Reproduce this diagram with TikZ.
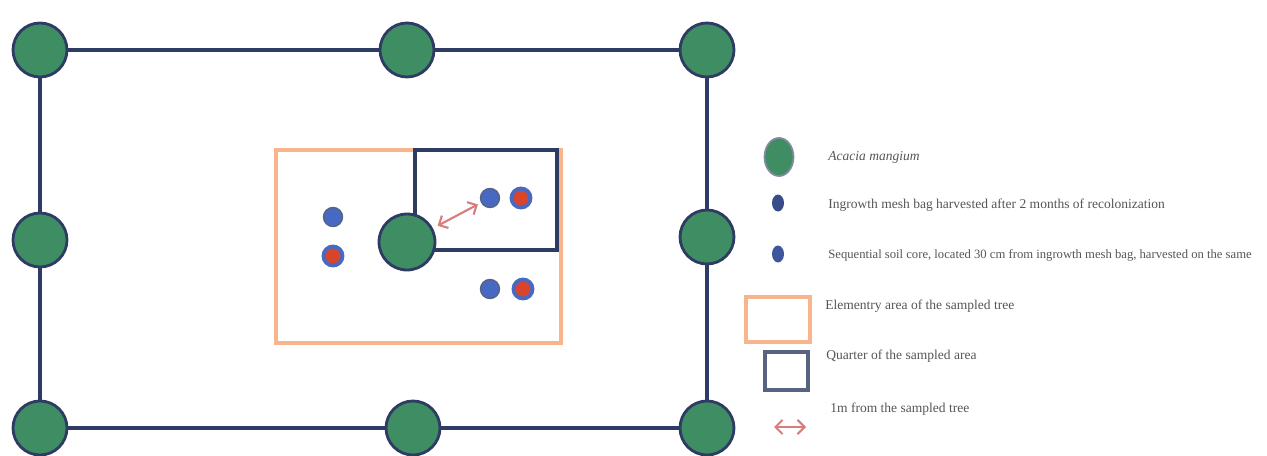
\documentclass[tikz,border=0pt]{standalone}
\usepackage{fontspec}
\setmainfont{Liberation Serif}
\usepackage{xcolor}
\usepackage{tikz}
\usetikzlibrary{arrows.meta,shapes.geometric}
\definecolor{treegreen}{HTML}{3F8D63}
\definecolor{plotblue}{HTML}{2E3B62}
\definecolor{bagblue}{HTML}{4769C2}
\definecolor{corered}{HTML}{D9452C}
\definecolor{elemorange}{HTML}{F8B48C}
\definecolor{distred}{HTML}{D87C7C}
\definecolor{legtext}{HTML}{555555}

\begin{document}
\begin{tikzpicture}[x=0.02cm, y=-0.02cm,
	tree/.style={circle, draw=plotblue, line width=1.6pt, fill=treegreen, minimum size=1.08cm, inner sep=0pt},
	bag/.style={circle, draw=plotblue!80, line width=0.8pt, fill=bagblue, minimum size=0.38cm, inner sep=0pt},
	core/.style={circle, draw=bagblue, line width=2.2pt, fill=corered, minimum size=0.38cm, inner sep=0pt},
	legtxt/.style={anchor=west, inner sep=0pt, text=legtext, font=\fontsize{7.7}{9}\selectfont},
	dist/.style={{Straight Barb[length=4pt]}-{Straight Barb[length=4pt]}, distred, line width=1.2pt}]
				\useasboundingbox (0,0) rectangle (1267,456);
				% plot border with the trees
				\node (tl) at (40,50) [tree] {};
				\node (tm) at (407,50) [tree] {};
				\node (tr) at (707,50) [tree] {};
				\node (ml) at (40,240) [tree] {};
				\node (mr) at (707,237) [tree] {};
				\node (bl) at (40,428) [tree] {};
				\node (bm) at (413,428) [tree] {};
				\node (br) at (707,428) [tree] {};
				\draw[plotblue, line width=1.8pt] (tl) -- (tm) -- (tr) -- (mr) -- (br) -- (bm) -- (bl) -- (ml) -- (tl);
				
				% sampled tree
				\draw[elemorange, line width=1.8pt] (276,150) rectangle (561,343);
				\draw[plotblue, line width=1.8pt] (415,150) rectangle (557,250);
				\node (ctree) at (407,242) [tree, minimum size=1.12cm] {};
				\node (bagA) at (333,217) [bag] {};
				\node (coreA) at (333,256) [core] {};
				\node (bagB) at (490,198) [bag] {};
				\node (coreB) at (521,198) [core] {};
				\node (bagC) at (490,289) [bag] {};
				\node (coreC) at (523,289) [core] {};
				\draw[dist, shorten <=3pt, shorten >=2pt] (ctree) -- (bagB);
				
				% legend
				\node (legtree) at (779,157) [ellipse, draw=plotblue!60, line width=1pt, fill=treegreen, minimum width=0.58cm, minimum height=0.76cm, inner sep=0pt] {};
				\node (legbag) at (778,203) [ellipse, fill=plotblue!60!bagblue, minimum width=0.24cm, minimum height=0.34cm, inner sep=0pt] {};
				\node (legcore) at (778,254) [ellipse, fill=plotblue!40!bagblue, minimum width=0.24cm, minimum height=0.34cm, inner sep=0pt] {};
				\draw[elemorange, line width=2pt] (746,297) rectangle (810,342);
				\draw[plotblue!80, line width=2pt] (765,352) rectangle (808,390);
				\coordinate (arrA) at (774,427);
				\coordinate (arrB) at (806,427);
				\draw[dist] (arrA) -- (arrB);
				\node at (828,157) [legtxt] {\itshape Acacia mangium};
				\node at (828,205) [legtxt] {Ingrowth mesh bag harvested after 2 months of recolonization};
				\node at (828,255) [legtxt, font=\fontsize{7.2}{9}\selectfont] {Sequential soil core, located 30 cm from ingrowth mesh bag, harvested on the same};
				\node at (825,306) [legtxt] {Elementry area of the sampled tree};
				\node at (826,356) [legtxt] {Quarter of the sampled area};
				\node at (830,409) [legtxt] {1m from the sampled tree};
			\end{tikzpicture}
\end{document}
